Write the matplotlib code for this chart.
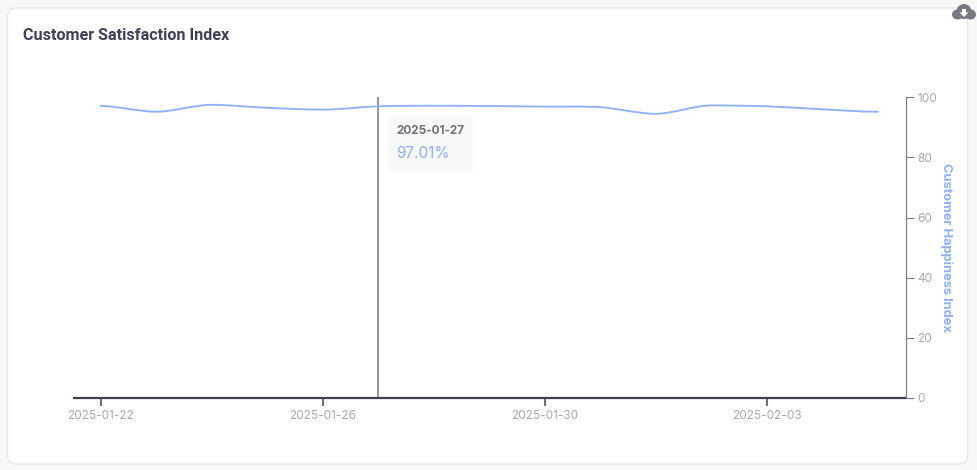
import numpy as np
import matplotlib
matplotlib.use('Agg')
import matplotlib.pyplot as plt
from matplotlib.patches import FancyBboxPatch, PathPatch, Ellipse, Polygon
from matplotlib.path import Path

# ── data ───────────────────────────────────────────────────────────────────────
DATES = ['2025-01-22', '2025-01-23', '2025-01-24', '2025-01-25', '2025-01-26',
         '2025-01-27', '2025-01-28', '2025-01-29', '2025-01-30', '2025-01-31',
         '2025-02-01', '2025-02-02', '2025-02-03', '2025-02-04', '2025-02-05']
HAPPINESS = [97.1, 95.2, 97.5, 96.5, 95.9,
             97.01, 97.2, 97.1, 96.9, 96.7,
             94.5, 97.3, 97.0, 96.0, 95.2]
Y_TICKS = [0, 20, 40, 60, 80, 100]
X_TICK_STEP = 4
HOVER_DATE = '2025-01-27'

W, H = 977, 470
BLUE = '#8fb0fb'
DARK = '#3e4156'


def smooth_path(xs, ys, k=0.3):
    """Bezier through the points, same idea as a smoothed echarts line."""
    verts = [(xs[0], ys[0])]
    codes = [Path.MOVETO]
    n = len(xs)
    for i in range(n - 1):
        s0 = 0.0 if i == 0 else (ys[i + 1] - ys[i - 1]) / 2
        s1 = 0.0 if i == n - 2 else (ys[i + 2] - ys[i]) / 2
        # flatten at local extrema
        if i > 0 and (ys[i] - ys[i - 1]) * (ys[i + 1] - ys[i]) < 0:
            s0 = 0.0
        if i < n - 2 and (ys[i + 1] - ys[i]) * (ys[i + 2] - ys[i + 1]) < 0:
            s1 = 0.0
        verts += [(xs[i] + k, ys[i] + s0 * k),
                  (xs[i + 1] - k, ys[i + 1] - s1 * k),
                  (xs[i + 1], ys[i + 1])]
        codes += [Path.CURVE4] * 3
    return Path(verts, codes)


fig = plt.figure(figsize=(W / 100, H / 100), dpi=100, facecolor='#f8f8f8')

# ── card + icon, drawn in pixel coords ─────────────────────────────────────────
bg = fig.add_axes([0, 0, 1, 1], zorder=0)
bg.set_xlim(0, W); bg.set_ylim(H, 0); bg.axis('off')
bg.add_patch(FancyBboxPatch((7.5, 8), 960, 456, boxstyle='round,pad=0,rounding_size=9',
                            fc='white', ec='#e8e8e8', lw=1))
bg.text(23, 35.5, 'Customer Satisfaction Index', fontsize=11.65, fontweight='bold',
        family='Roboto', color=DARK, va='center', ha='left')

# download icon sits on top of the card corner
icon = fig.add_axes([0, 0, 1, 1], zorder=3)
icon.set_xlim(0, W); icon.set_ylim(H, 0); icon.axis('off')
for cx, cy, w, h in [(964, 11.5, 15, 15), (957.5, 14.5, 11, 10), (970.5, 14.5, 11, 10)]:
    icon.add_patch(Ellipse((cx, cy), w, h, fc='#757a82', ec='none'))
icon.add_patch(Polygon([(962, 9), (966, 9), (966, 12.5), (968.5, 12.5), (964, 17),
                        (959.5, 12.5), (962, 12.5)], fc='white', ec='none'))

# ── chart ──────────────────────────────────────────────────────────────────────
ax = fig.add_axes([73 / W, 1 - 397.8 / H, (905.5 - 73) / W, 300.5 / H], zorder=1)
ax.patch.set_alpha(0)
x = np.arange(len(DATES))
ax.set_xlim(-0.5, len(DATES) - 0.5)
ax.set_ylim(0, 100)

ax.add_patch(PathPatch(smooth_path(x, HAPPINESS), fc='none', ec=BLUE, lw=1.35,
                       capstyle='round', zorder=3))

hover = DATES.index(HOVER_DATE)
ax.axvline(hover, color='#94969e', lw=1.4, zorder=2)

for side in ['left', 'top']:
    ax.spines[side].set_visible(False)
ax.spines['bottom'].set_color(DARK)
ax.spines['bottom'].set_linewidth(1.6)
ax.spines['bottom'].set_capstyle('butt')
ax.spines['right'].set_color('#77797f')
ax.spines['right'].set_linewidth(0.8)
ax.spines['bottom'].set_zorder(4)

ax.set_xticks(x[::X_TICK_STEP])
ax.set_xticklabels(DATES[::X_TICK_STEP])
ax.tick_params(axis='x', length=6, width=1.5, color='#6e7079', labelcolor='#a9a9ad',
               labelsize=8.5, pad=3)
for lbl in ax.get_xticklabels():
    lbl.set_family('Inter')

ax.yaxis.tick_right()
ax.set_yticks(Y_TICKS)
ax.tick_params(axis='y', length=6, width=0.8, color='#77797f', labelcolor='#a9a9ad',
               labelsize=8.5, pad=2.5)
for lbl in ax.get_yticklabels():
    lbl.set_family('Inter')

ax.yaxis.set_label_position('right')
ax.set_ylabel('Customer Happiness Index', rotation=270, color=BLUE, fontsize=9.25,
              fontweight='bold', family='Inter', labelpad=0)
ax.yaxis.set_label_coords((952 - 73) / (905.5 - 73), 0.5)

# ── tooltip ────────────────────────────────────────────────────────────────────
tip = fig.add_axes([0, 0, 1, 1], zorder=2)
tip.set_xlim(0, W); tip.set_ylim(H, 0); tip.axis('off')
tip.add_patch(FancyBboxPatch((388, 117), 85, 54, boxstyle='round,pad=0,rounding_size=3',
                             fc='#f8f8f9', ec='none'))
tip.text(396, 131, HOVER_DATE, fontsize=8.5, fontweight='bold', family='Inter',
         color='#707279', va='center', ha='left')
tip.text(396, 153.5, f'{HAPPINESS[hover]:.2f}%', fontsize=11, family='Inter',
         color=BLUE, va='center', ha='left')

fig.savefig('out.png', dpi=100, facecolor=fig.get_facecolor())
